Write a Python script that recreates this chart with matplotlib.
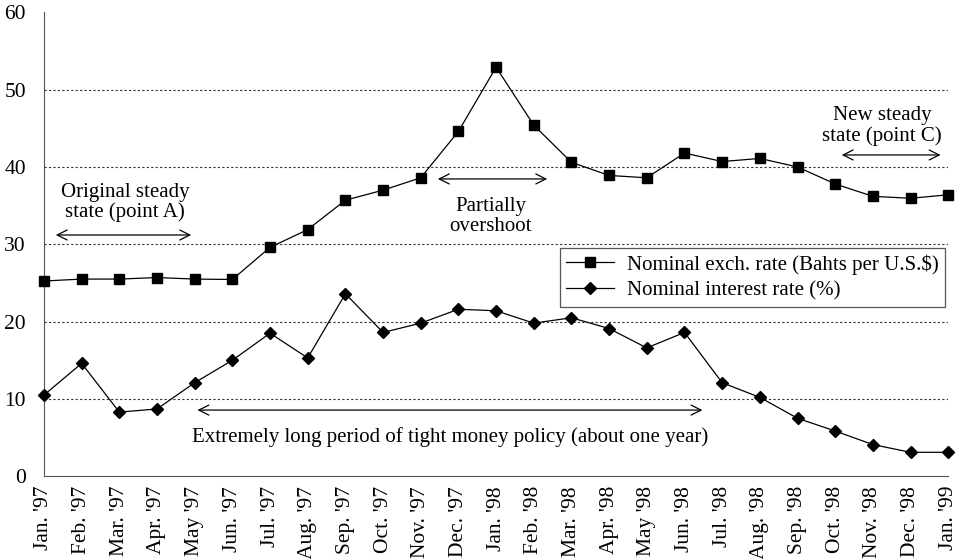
import matplotlib
matplotlib.use("Agg")
import matplotlib.pyplot as plt

# Data
months = ["Jan. '97", "Feb. '97", "Mar. '97", "Apr. '97", "May '97", "Jun. '97",
          "Jul. '97", "Aug. '97", "Sep. '97", "Oct. '97", "Nov. '97", "Dec. '97",
          "Jan. '98", "Feb. '98", "Mar. '98", "Apr. '98", "May '98", "Jun. '98",
          "Jul. '98", "Aug. '98", "Sep. '98", "Oct. '98", "Nov. '98", "Dec. '98",
          "Jan. '99"]
exch_rate = [25.25, 25.5, 25.5, 25.7, 25.5, 25.45, 29.6, 31.9, 35.7, 37.0, 38.6, 44.6,
             52.9, 45.4, 40.6, 38.9, 38.6, 41.8, 40.7, 41.1, 40.0, 37.8, 36.2, 35.95,
             36.4]
int_rate = [10.5, 14.6, 8.3, 8.7, 12.1, 15.0, 18.5, 15.3, 23.6, 18.6, 19.8, 21.6,
            21.4, 19.8, 20.5, 19.1, 16.6, 18.6, 12.1, 10.2, 7.5, 5.85, 4.1, 3.1,
            3.1]
grid_levels = [10, 20, 30, 40, 50]

plt.rcParams['font.family'] = ['Liberation Serif', 'DejaVu Serif']

fig = plt.figure(figsize=(9.62, 5.59), dpi=100)
ax = fig.add_axes([0.0457, 0.148, 0.94, 0.83])

x = list(range(len(months)))

for g in grid_levels:
    ax.axhline(g, color='#333333', linestyle=(0, (2, 2)), linewidth=0.8, zorder=1)

ax.plot(x, exch_rate, color='black', linewidth=0.9, marker='s', markersize=6.5,
        label='Nominal exch. rate (Bahts per U.S.$)', zorder=3, clip_on=False)
ax.plot(x, int_rate, color='black', linewidth=0.9, marker='D', markersize=6,
        label='Nominal interest rate (%)', zorder=3, clip_on=False)

ax.set_xlim(0, 24)
ax.set_ylim(0, 60)
ax.set_yticks([0, 10, 20, 30, 40, 50, 60])
ax.set_xticks(x)
ax.set_xticklabels(months, rotation=90)
ax.tick_params(axis='both', length=0, labelsize=15.5)
ax.tick_params(axis='y', pad=13)
ax.tick_params(axis='x', pad=7)

for s in ['top', 'right']:
    ax.spines[s].set_visible(False)
ax.spines['left'].set_color('#555555')
ax.spines['bottom'].set_color('#555555')

# Annotations
arrow = dict(arrowstyle='<->', color='black', linewidth=0.9, mutation_scale=18)
ax.text(2.15, 35.4, "Original steady\nstate (point A)", ha='center', va='center',
        fontsize=15, linespacing=1.05)
ax.annotate('', xy=(0.24, 31.2), xytext=(3.98, 31.2), arrowprops=arrow)

ax.text(11.85, 33.6, "Partially\novershoot", ha='center', va='center',
        fontsize=15, linespacing=1.05)
ax.annotate('', xy=(10.38, 38.45), xytext=(13.43, 38.45), arrowprops=arrow)

ax.text(22.25, 45.3, "New steady\nstate (point C)", ha='center', va='center',
        fontsize=15, linespacing=1.05)
ax.annotate('', xy=(21.1, 41.55), xytext=(23.87, 41.55), arrowprops=arrow)

ax.text(10.78, 5.1, "Extremely long period of tight money policy (about one year)",
        ha='center', va='center', fontsize=15)
ax.annotate('', xy=(4.0, 8.56), xytext=(17.55, 8.56), arrowprops=arrow)

leg = ax.legend(loc='upper right', bbox_to_anchor=(0.996, 0.492), fontsize=15,
                fancybox=False, edgecolor='#555555', framealpha=1,
                handlelength=2.3, borderpad=0.3, labelspacing=0.3,
                borderaxespad=0, handletextpad=0.6)
leg.get_frame().set_linewidth(0.9)

plt.savefig("out.png", dpi=100)
